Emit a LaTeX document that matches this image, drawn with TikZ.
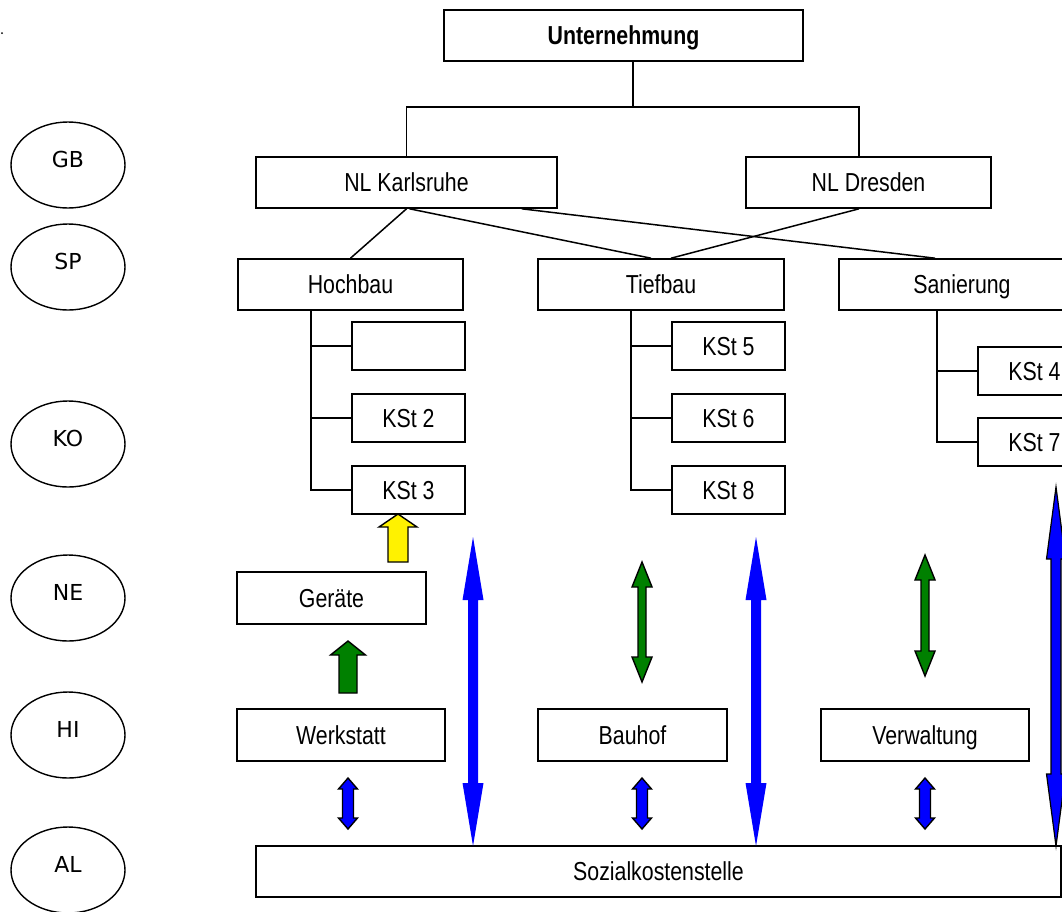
\documentclass[tikz,border=0pt]{standalone}
\usepackage{fontspec}
\setmainfont{Liberation Sans}[FakeStretch=0.82]
\newfontfamily\ellfont{DejaVu Sans}
\usetikzlibrary{calc,shapes.geometric}
\definecolor{dgreen}{RGB}{0,128,0}

% block arrows: x, top, bottom, half shaft, half head, head length, colour/options
\newcommand{\uparr}[7]{\filldraw[fill=#7,line width=1.4pt] (#1,#2) -- (#1+#5,#2+#6) -- (#1+#4,#2+#6) -- (#1+#4,#3) -- (#1-#4,#3) -- (#1-#4,#2+#6) -- (#1-#5,#2+#6) -- cycle;}
\newcommand{\dblarr}[7]{\path[#7] (#1,#2) -- (#1+#5,#2+#6) -- (#1+#4,#2+#6) -- (#1+#4,#3-#6) -- (#1+#5,#3-#6) -- (#1,#3) -- (#1-#5,#3-#6) -- (#1-#4,#3-#6) -- (#1-#4,#2+#6) -- (#1-#5,#2+#6) -- cycle;}

\begin{document}
\begin{tikzpicture}[x=1pt,y=-1pt,
    font=\fontsize{26}{30}\selectfont,
    box/.style={draw,line width=1.6pt,inner sep=0pt,text height=18.5pt,text depth=0pt},
    kst/.style={box,minimum width=113,minimum height=48},
    lvl/.style={ellipse,draw,line width=1.4pt,inner sep=0pt,minimum width=114,minimum height=86,
      text height=16pt,text depth=12pt,font=\ellfont\fontsize{22}{26}\selectfont},
    conn/.style={line width=1.5pt}]
      \useasboundingbox (0,0) rectangle (1062,911);
      \clip (0,0) rectangle (1062,911);
      \fill (2,33) circle (1);

      % levels
      \foreach \n/\y in {GB/165,SP/267,KO/444,NE/598,HI/735,AL/870}
        \node[lvl] (\n) at (68,\y) {\n};

      \node[box,minimum width=359,minimum height=51,font=\fontsize{26}{30}\selectfont\bfseries] (unt) at (623.5,35.5) {Unternehmung};
      \node[box,minimum width=301,minimum height=51] (nlk) at (406.5,182.5) {NL Karlsruhe};
      \node[box,minimum width=245,minimum height=51] (nld) at (868.5,182.5) {NL Dresden};

      \node[box,minimum width=225,minimum height=51] (hoch) at (350.5,284.5) {Hochbau};
      \node[box,minimum width=246,minimum height=51] (tief) at (661,284.5) {Tiefbau};
      \node[box,minimum width=246,minimum height=51] (san) at (962,284.5) {Sanierung};

      \node[kst] (k1) at (408.5,346) {};
      \node[kst] (k2) at (408.5,418) {KSt 2};
      \node[kst] (k3) at (408.5,490) {KSt 3};
      \node[kst] (k5) at (728.5,346) {KSt 5};
      \node[kst] (k6) at (728.5,418) {KSt 6};
      \node[kst] (k8) at (728.5,490) {KSt 8};
      \node[kst] (k4) at (1034.5,371) {KSt 4};
      \node[kst] (k7) at (1034.5,442) {KSt 7};

      \node[box,minimum width=189,minimum height=52] (ger) at (331.5,598) {Geräte};
      \node[box,minimum width=208,minimum height=52] (werk) at (341,735) {Werkstatt};
      \node[box,minimum width=189,minimum height=52] (bau) at (632.5,735) {Bauhof};
      \node[box,minimum width=208,minimum height=52] (verw) at (925,735) {Verwaltung};
      \node[box,minimum width=805,minimum height=51] (soz) at (658.5,871.5) {Sozialkostenstelle};

      % tree
      \draw[conn] ($(unt.south)+(9.5,0)$) -- ++(0,45) coordinate (bar);
      \draw[conn] (nlk.north) |- (bar) -| ($(nld.north)+(-9.5,0)$);
      \draw[conn] (nlk.south) -- (hoch.north);
      \draw[conn] ($(nlk.south)+(3,0)$) -- ($(tief.north)+(-10,0)$);
      \draw[conn] ($(nlk.south east)+(-36,0)$) -- ($(san.north)+(-27,0)$);
      \draw[conn] ($(nld.south)+(-9.5,0)$) -- ($(tief.north)+(10,0)$);

      \draw[conn] ($(hoch.south west)+(74,0)$) |- (k3.west);
      \foreach \k in {k1,k2} \draw[conn] (\k.west) -- ++(-40,0);
      \draw[conn] ($(tief.south west)+(94,0)$) |- (k8.west);
      \foreach \k in {k5,k6} \draw[conn] (\k.west) -- ++(-40,0);
      \draw[conn] ($(san.south west)+(99,0)$) |- (k7.west);
      \draw[conn] (k4.west) -- ++(-40,0);

      % arrows
      \uparr{398}{514}{562}{10}{19}{13}{yellow}
      \uparr{348}{641}{693}{9}{17.5}{14}{dgreen}
      \dblarr{642}{562}{682}{4}{10}{25}{draw,line width=1.4pt,fill=dgreen}
      \dblarr{925}{555}{676}{4}{10}{25}{draw,line width=1.4pt,fill=dgreen}
      \foreach \x in {348,642,925}{
        \dblarr{\x}{778}{829}{5.5}{9.5}{11}{draw,line width=1.4pt,fill=blue}
      }
      \dblarr{473}{537}{846}{5}{10.5}{63}{fill=blue}
      \dblarr{756}{537}{846}{5}{10.5}{63}{fill=blue}
      \dblarr{1056}{487}{846}{5}{9.5}{72}{draw,line width=1.2pt,fill=blue}
\end{tikzpicture}
\end{document}
